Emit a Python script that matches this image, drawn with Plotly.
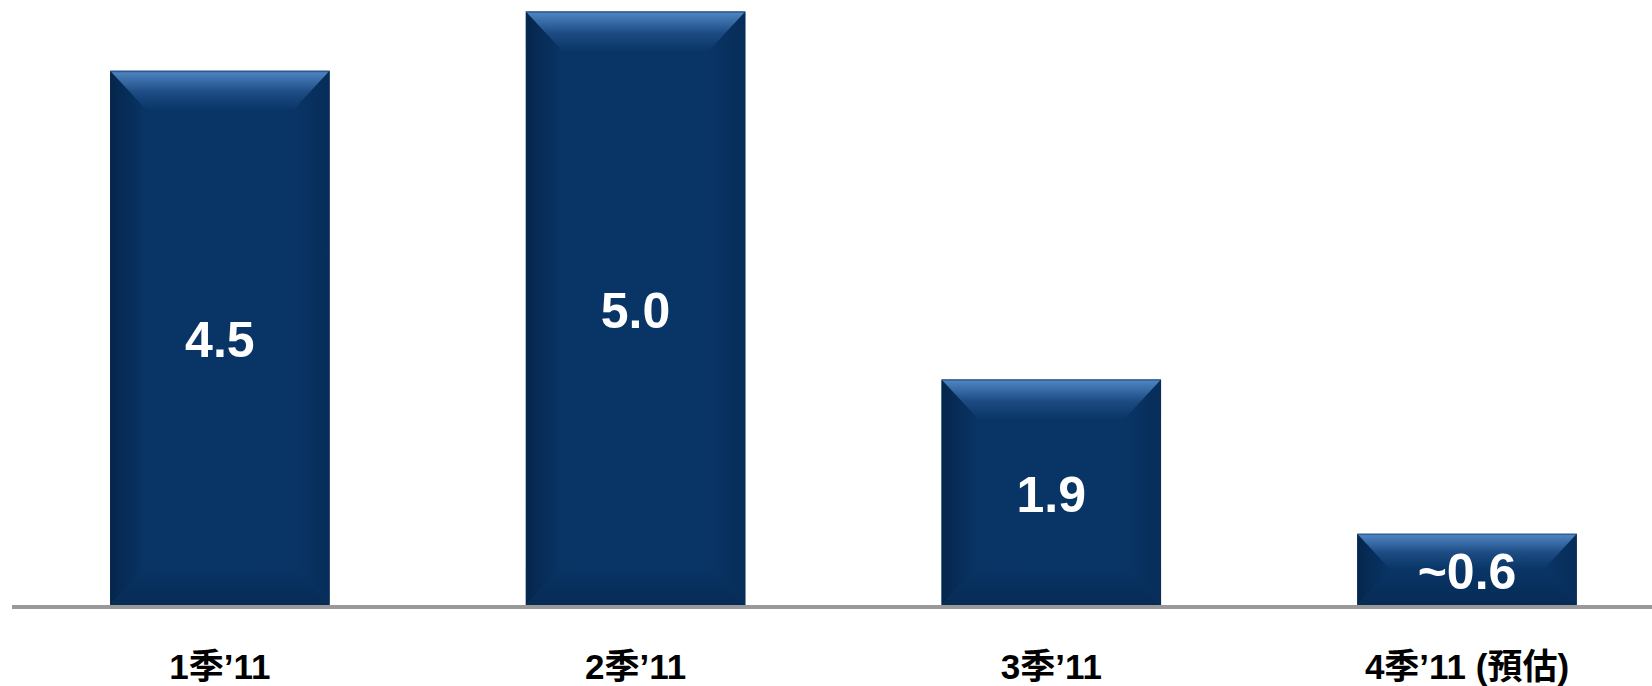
import plotly.graph_objects as go

categories = ["1季’11", "2季’11", "3季’11", "4季’11 (預估)"]
values = [4.5, 5.0, 1.9, 0.6]
value_labels = ["4.5", "5.0", "1.9", "~0.6"]

MAIN = "#093566"
LIGHT = "#4c82bf"
DARK_EDGE = "#05264c"
RIGHT_EDGE = "#072d58"
BOTTOM_EDGE = "#062b55"
FONT = "Liberation Sans, Arial, Noto Sans CJK TC, sans-serif"

W, H = 1652, 686
ML, MR, MT, MB = 12, 0, 0, 81
YMAX = 5.097
XMIN, XMAX = -0.5, 3.445
BAR_W = 0.528

px_per_y = (H - MT - MB) / YMAX
px_per_x = (W - ML - MR) / (XMAX - XMIN)
BEVEL_PX = 40
LABEL_DROP_PX = 7

fig = go.Figure()
fig.add_trace(go.Bar(
    x=list(range(len(values))), y=values, width=BAR_W,
    marker=dict(color=MAIN, line=dict(width=0)),
    hoverinfo="skip", showlegend=False,
))

for i, v in enumerate(values):
    bar_px = v * px_per_y
    dpx = min(BEVEL_PX, bar_px / 2)
    d = dpx / px_per_y
    dx = dpx * 0.93 / px_per_x
    x0, x1 = i - BAR_W / 2, i + BAR_W / 2
    # left side
    fig.add_trace(go.Scatter(
        x=[x0, x0, x0 + dx, x0 + dx, x0], y=[0, v, v - d, d, 0],
        mode="lines", line=dict(width=0), fill="toself",
        fillgradient=dict(type="horizontal", colorscale=[[0, DARK_EDGE], [1, MAIN]]),
        hoverinfo="skip", showlegend=False))
    # right side
    fig.add_trace(go.Scatter(
        x=[x1, x1, x1 - dx, x1 - dx, x1], y=[0, v, v - d, d, 0],
        mode="lines", line=dict(width=0), fill="toself",
        fillgradient=dict(type="horizontal", colorscale=[[0, MAIN], [1, RIGHT_EDGE]]),
        hoverinfo="skip", showlegend=False))
    # bottom
    fig.add_trace(go.Scatter(
        x=[x0, x1, x1 - dx, x0 + dx, x0], y=[0, 0, d, d, 0],
        mode="lines", line=dict(width=0), fill="toself",
        fillgradient=dict(type="vertical", colorscale=[[0, BOTTOM_EDGE], [1, MAIN]]),
        hoverinfo="skip", showlegend=False))
    # top (light)
    fig.add_trace(go.Scatter(
        x=[x0, x1, x1 - dx, x0 + dx, x0], y=[v, v, v - d, v - d, v],
        mode="lines", line=dict(width=0), fill="toself",
        fillgradient=dict(type="vertical", colorscale=[[0, MAIN], [0.45, "#1c4a82"], [0.95, LIGHT], [1, "#1d4a80"]]),
        hoverinfo="skip", showlegend=False))

fig.add_trace(go.Scatter(
    x=list(range(len(values))), y=[v / 2 - LABEL_DROP_PX / px_per_y for v in values],
    mode="text", text=value_labels,
    textfont=dict(family=FONT, size=50, color="white", weight="bold"),
    hoverinfo="skip", showlegend=False))

fig.update_layout(
    width=W, height=H,
    margin=dict(l=ML, r=MR, t=MT, b=MB, pad=0, autoexpand=False),
    paper_bgcolor="white", plot_bgcolor="white",
    xaxis=dict(
        range=[XMIN, XMAX], tickvals=list(range(len(categories))), ticktext=categories,
        showgrid=False, zeroline=False, showline=True, linecolor="#999999", linewidth=4,
        ticks="outside", ticklen=28, tickcolor="rgba(0,0,0,0)", automargin=False,
        tickfont=dict(family=FONT, size=35, color="black", weight="bold"),
        fixedrange=True,
    ),
    yaxis=dict(range=[0, YMAX], visible=False, showgrid=False, zeroline=False,
               fixedrange=True, automargin=False),
)

fig.write_html(
    "out.html",
    config={"displayModeBar": False},
    post_script="document.body.style.margin='0';document.body.style.overflow='hidden';",
)
